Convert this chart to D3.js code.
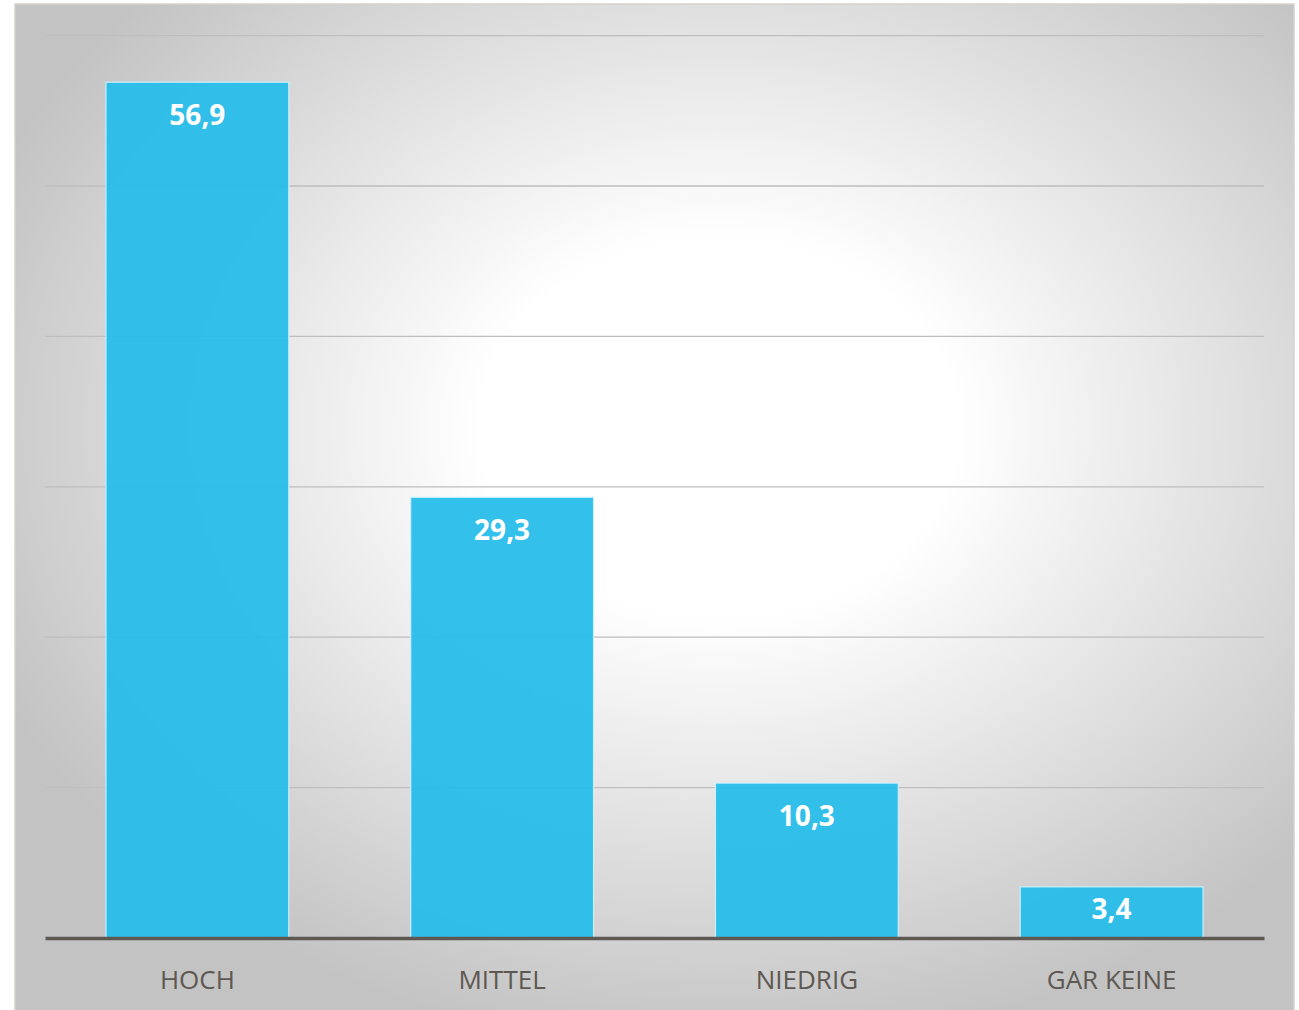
<!DOCTYPE html>
<html>
<head>
<meta charset="utf-8">
<script src="https://cdn.jsdelivr.net/npm/d3@7"></script>
<style>
  body { margin: 0; background: #fff; }
  svg { display: block; }
</style>
</head>
<body>
<svg id="chart"></svg>
<script>
const categories = ["HOCH", "MITTEL", "NIEDRIG", "GAR KEINE"];
const values = [56.9, 29.3, 10.3, 3.4];
const labels = ["56,9", "29,3", "10,3", "3,4"];
const yTicks = [0, 10, 20, 30, 40, 50, 60];

const width = 1299;
const height = 1010;
const plot = {left: 45, right: 1264, top: 35.6, bottom: 938};

const svg = d3.select('#chart')
	.attr('width', width)
	.attr('height', height);

// background panel with radial light spot
const defs = svg.append('defs');
const grad = defs.append('radialGradient')
	.attr('id', 'bg')
	.attr('cx', '55%').attr('cy', '42%').attr('r', '62%');
grad.append('stop').attr('offset', '0%').attr('stop-color', '#ffffff');
grad.append('stop').attr('offset', '30%').attr('stop-color', '#ffffff');
grad.append('stop').attr('offset', '100%').attr('stop-color', '#c3c3c3');

svg.append('rect')
	.attr('x', 15).attr('y', 4)
	.attr('width', 1279).attr('height', 1010)
	.attr('fill', 'url(#bg)')
	.attr('stroke', '#d6d1cc')
	.attr('stroke-width', 1.5);

const x = d3.scaleBand()
	.domain(categories)
	.range([plot.left, plot.right])
	.paddingInner(0.4)
	.paddingOuter(0.2);

const y = d3.scaleLinear()
	.domain([0, 60])
	.range([plot.bottom, plot.top]);

// gridlines
svg.append('g')
	.selectAll('line')
	.data(yTicks.slice(1))
	.join('line')
		.attr('x1', plot.left)
		.attr('x2', plot.right)
		.attr('y1', d => y(d))
		.attr('y2', d => y(d))
		.attr('stroke', '#bebebe')
		.attr('stroke-width', 1.3);

const data = categories.map((c, i) => ({cat: c, value: values[i], label: labels[i]}));

svg.append('g')
	.selectAll('rect')
	.data(data)
	.join('rect')
		.attr('x', d => x(d.cat))
		.attr('y', d => y(d.value))
		.attr('width', x.bandwidth())
		.attr('height', d => y(0) - y(d.value))
		.attr('fill', '#26bdea')
		.attr('fill-opacity', 0.94)
		.attr('stroke', '#c9f0fb')
		.attr('stroke-width', 1.2);

// value labels: near bar top, centred in short bars
svg.append('g')
	.selectAll('text')
	.data(data)
	.join('text')
		.text(d => d.label)
		.attr('x', d => x(d.cat) + x.bandwidth() / 2)
		.attr('y', d => Math.min(y(d.value) + 43, (y(d.value) + y(0)) / 2 + 7))
		.attr('text-anchor', 'middle')
		.attr('fill', '#ffffff')
		.attr('font-family', '"Open Sans", sans-serif')
		.attr('font-weight', 'bold')
		.attr('font-size', 28);

// x axis
const xAxis = svg.append('g')
	.attr('transform', `translate(0,${plot.bottom})`)
	.call(d3.axisBottom(x).tickSize(0).tickPadding(0).tickSizeOuter(0));
xAxis.select('.domain')
	.attr('stroke', '#5e5852')
	.attr('stroke-width', 3.4);
xAxis.selectAll('text')
	.attr('dy', 0)
	.attr('y', 51)
	.attr('fill', '#5e5852')
	.attr('font-family', '"Open Sans", sans-serif')
	.attr('font-size', 26);
</script>
</body>
</html>
